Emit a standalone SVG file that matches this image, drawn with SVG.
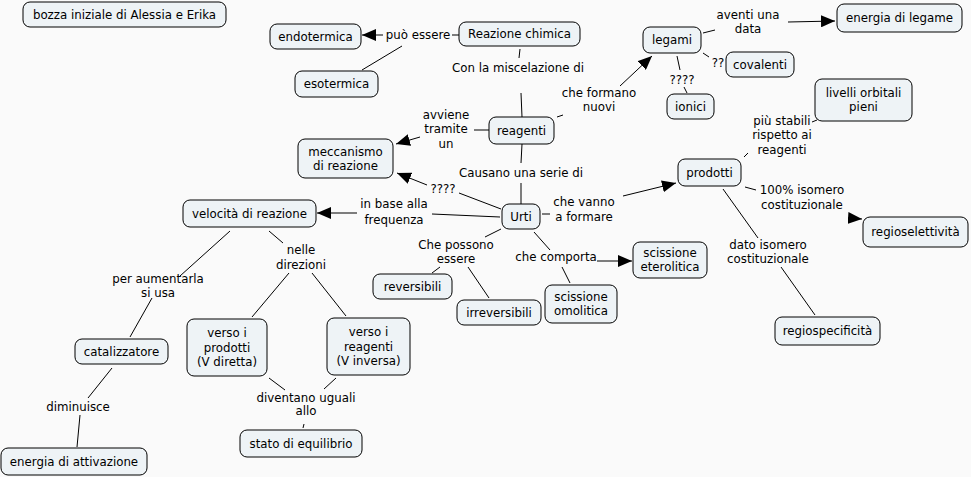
<svg xmlns="http://www.w3.org/2000/svg" width="971" height="477" viewBox="0 0 971 477">
<defs>
<marker id="arr" markerUnits="userSpaceOnUse" markerWidth="16" markerHeight="12" refX="14" refY="6" orient="auto">
<path d="M0,0 L14,6 L0,12 Z" fill="#000"/>
</marker>
<style>
.n rect{fill:#eef3f6;stroke:#000;stroke-width:1}
text{font-family:Verdana,"DejaVu Sans",sans-serif;font-size:11.8px;fill:#000;text-anchor:middle}
#conn line{stroke:#000;stroke-width:1;fill:none}
#conn line.a{marker-end:url(#arr)}
</style>
</defs>
<rect width="971" height="477" fill="#fafafa"/>
<g id="conn">
<line x1="459" y1="35" x2="452" y2="35"/>
<line class="a" x1="383" y1="35" x2="362" y2="35"/>
<line x1="402" y1="46" x2="362" y2="70"/>
<line x1="520" y1="49" x2="519" y2="58"/>
<line x1="521" y1="93" x2="522" y2="117"/>
<line x1="489" y1="130" x2="474" y2="130"/>
<line class="a" x1="420" y1="137" x2="396" y2="144"/>
<line x1="557" y1="117" x2="563" y2="115"/>
<line class="a" x1="620" y1="86" x2="652" y2="56"/>
<line x1="522" y1="144" x2="521" y2="163"/>
<line x1="521" y1="183" x2="521" y2="204"/>
<line x1="501" y1="209" x2="459" y2="193"/>
<line class="a" x1="427" y1="185" x2="397" y2="173"/>
<line x1="500" y1="217" x2="432" y2="214"/>
<line class="a" x1="357" y1="213" x2="317" y2="213"/>
<line x1="542" y1="214" x2="550" y2="214"/>
<line class="a" x1="623" y1="196" x2="676" y2="183"/>
<line x1="501" y1="229" x2="485" y2="237"/>
<line x1="440" y1="267" x2="432" y2="273"/>
<line x1="468" y1="267" x2="489" y2="298"/>
<line x1="534" y1="232" x2="550" y2="250"/>
<line class="a" x1="597" y1="261" x2="632" y2="261"/>
<line x1="562" y1="267" x2="570" y2="283"/>
<line x1="703" y1="33" x2="715" y2="30"/>
<line class="a" x1="788" y1="22" x2="835" y2="21"/>
<line x1="703" y1="53" x2="709" y2="57"/>
<line x1="677" y1="56" x2="680" y2="70"/>
<line x1="684" y1="87" x2="687" y2="93"/>
<line x1="744" y1="157" x2="748" y2="153"/>
<line x1="812" y1="122" x2="817" y2="120"/>
<line x1="745" y1="187" x2="756" y2="190"/>
<line class="a" x1="848" y1="218" x2="862" y2="219"/>
<line x1="723" y1="189" x2="758" y2="238"/>
<line x1="781" y1="267" x2="815" y2="315"/>
<line x1="230" y1="231" x2="180" y2="276"/>
<line x1="152" y1="298" x2="130" y2="337"/>
<line x1="269" y1="231" x2="283" y2="243"/>
<line x1="289" y1="273" x2="252" y2="317"/>
<line x1="312" y1="273" x2="346" y2="316"/>
<line x1="112" y1="368" x2="88" y2="398"/>
<line x1="80" y1="415" x2="77" y2="447"/>
<line x1="269" y1="378" x2="285" y2="390"/>
<line x1="336" y1="378" x2="324" y2="389"/>
<line x1="304" y1="424" x2="303" y2="428"/>
</g>
<g id="labels">
<text x="418" y="39">può essere</text>
<text x="518" y="72">Con la miscelazione di</text>
<text x="599" y="97">che formano</text>
<text x="599" y="111">nuovi</text>
<text x="446" y="119">avviene</text>
<text x="446" y="133">tramite</text>
<text x="446" y="148">un</text>
<text x="521" y="177">Causano una serie di</text>
<text x="443" y="193">????</text>
<text x="748" y="19">aventi una</text>
<text x="748" y="33">data</text>
<text x="718" y="67">??</text>
<text x="682" y="84">????</text>
<text x="782" y="125">più stabili</text>
<text x="782" y="139">rispetto ai</text>
<text x="782" y="154">reagenti</text>
<text x="802" y="194">100% isomero</text>
<text x="802" y="209">costituzionale</text>
<text x="768" y="249">dato isomero</text>
<text x="768" y="263">costituzionale</text>
<text x="584" y="206">che vanno</text>
<text x="584" y="221">a formare</text>
<text x="394" y="208">in base alla</text>
<text x="394" y="224">frequenza</text>
<text x="456" y="249">Che possono</text>
<text x="456" y="263">essere</text>
<text x="556" y="261">che comporta</text>
<text x="301" y="254">nelle</text>
<text x="301" y="269">direzioni</text>
<text x="158" y="283">per aumentarla</text>
<text x="158" y="297">si usa</text>
<text x="78" y="411">diminuisce</text>
<text x="306" y="402">diventano uguali</text>
<text x="306" y="415">allo</text>
</g>
<g id="n1" class="n"><rect x="23" y="2" width="203" height="25" rx="7"/><text x="124.5" y="18.5">bozza iniziale di Alessia e Erika</text></g>
<g id="n2" class="n"><rect x="270" y="24" width="91" height="25" rx="7"/><text x="315.5" y="40.5">endotermica</text></g>
<g id="n3" class="n"><rect x="295" y="71" width="83" height="26" rx="7"/><text x="336.5" y="88">esotermica</text></g>
<g id="n4" class="n"><rect x="298" y="139" width="95" height="39" rx="7"/><text x="345.5" y="155.5">meccanismo</text><text x="345.5" y="169.5">di reazione</text></g>
<g id="n5" class="n"><rect x="459" y="22" width="121" height="24" rx="7"/><text x="519.5" y="38">Reazione chimica</text></g>
<g id="n6" class="n"><rect x="489" y="117" width="65" height="27" rx="7"/><text x="521.5" y="134.5">reagenti</text></g>
<g id="n7" class="n"><rect x="643" y="27" width="58" height="26" rx="7"/><text x="672" y="44">legami</text></g>
<g id="n8" class="n"><rect x="837" y="4" width="125" height="28" rx="7"/><text x="899.5" y="22">energia di legame</text></g>
<g id="n9" class="n"><rect x="726" y="52" width="68" height="25" rx="7"/><text x="760" y="68.5">covalenti</text></g>
<g id="n10" class="n"><rect x="667" y="94" width="47" height="25" rx="7"/><text x="690.5" y="110.5">ionici</text></g>
<g id="n11" class="n"><rect x="815" y="79" width="97" height="42" rx="7"/><text x="863.5" y="97">livelli orbitali</text><text x="863.5" y="111">pieni</text></g>
<g id="n12" class="n"><rect x="678" y="159" width="63" height="27" rx="7"/><text x="709.5" y="176.5">prodotti</text></g>
<g id="n13" class="n"><rect x="863" y="217" width="105" height="30" rx="7"/><text x="915.5" y="236">regioselettività</text></g>
<g id="n14" class="n"><rect x="775" y="317" width="105" height="28" rx="7"/><text x="827.5" y="335">regiospecificità</text></g>
<g id="n15" class="n"><rect x="633" y="242" width="74" height="36" rx="7"/><text x="670" y="257">scissione</text><text x="670" y="271">eterolitica</text></g>
<g id="n16" class="n"><rect x="545" y="285" width="72" height="38" rx="7"/><text x="581" y="301">scissione</text><text x="581" y="315">omolitica</text></g>
<g id="n17" class="n"><rect x="457" y="300" width="84" height="25" rx="7"/><text x="499" y="316.5">irreversibili</text></g>
<g id="n18" class="n"><rect x="373" y="274" width="79" height="25" rx="7"/><text x="412.5" y="290.5">reversibili</text></g>
<g id="n19" class="n"><rect x="502" y="204" width="38" height="25" rx="7"/><text x="521" y="220.5">Urti</text></g>
<g id="n20" class="n"><rect x="183" y="200" width="133" height="27" rx="7"/><text x="249.5" y="217.5">velocità di reazione</text></g>
<g id="n21" class="n"><rect x="75" y="339" width="93" height="25" rx="7"/><text x="121.5" y="355.5">catalizzatore</text></g>
<g id="n22" class="n"><rect x="1" y="448" width="146" height="27" rx="7"/><text x="74" y="465.5">energia di attivazione</text></g>
<g id="n23" class="n"><rect x="187" y="319" width="80" height="57" rx="7"/><text x="227" y="337">verso i</text><text x="227" y="351.5">prodotti</text><text x="227" y="366">(V diretta)</text></g>
<g id="n24" class="n"><rect x="327" y="318" width="83" height="57" rx="7"/><text x="368.5" y="336">verso i</text><text x="368.5" y="350.5">reagenti</text><text x="368.5" y="365">(V inversa)</text></g>
<g id="n25" class="n"><rect x="240" y="430" width="122" height="27" rx="7"/><text x="301" y="447.5">stato di equilibrio</text></g>
</svg>
